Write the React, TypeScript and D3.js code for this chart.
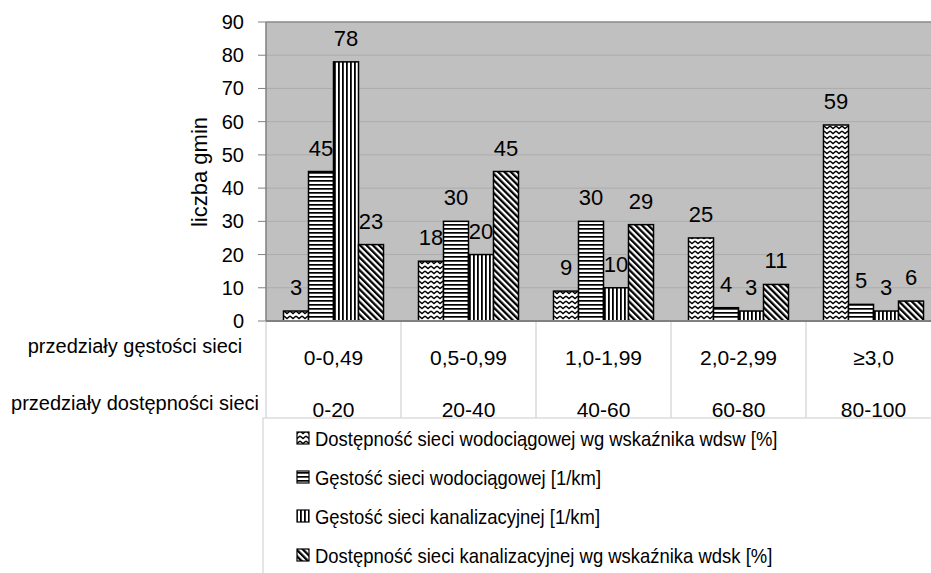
import * as d3 from 'd3';

const categories = ['0-0,49', '0,5-0,99', '1,0-1,99', '2,0-2,99', '≥3,0'];
const accessRanges = ['0-20', '20-40', '40-60', '60-80', '80-100'];

const wdswValues = [3, 18, 9, 25, 59];
const waterDensityValues = [45, 30, 30, 4, 5];
const sewerDensityValues = [78, 20, 10, 3, 3];
const wdskValues = [23, 45, 29, 11, 6];

const seriesNames = [
  'Dostępność sieci wodociągowej wg wskaźnika wdsw [%]',
  'Gęstość sieci wodociągowej [1/km]',
  'Gęstość sieci kanalizacyjnej [1/km]',
  'Dostępność sieci kanalizacyjnej wg wskaźnika wdsk [%]',
];
const seriesValues = [wdswValues, waterDensityValues, sewerDensityValues, wdskValues];
const patternIds = ['pat-zigzag', 'pat-horiz', 'pat-vert', 'pat-diag'];

const rowLabels = ['przedziały gęstości sieci', 'przedziały dostępności sieci'];
const yLabel = 'liczba gmin';

const FONT = "'Liberation Sans', Arial, sans-serif";

const App = () => {
  const width = 931;
  const height = 573;
  const left = 266;
  const right = 941;
  const top = 22;
  const bottom = 321;

  const x0 = d3.scaleBand<string>().domain(categories).range([left, right]);
  const x1 = d3
    .scaleBand<number>()
    .domain(d3.range(seriesValues.length))
    .range([0, x0.bandwidth()])
    .paddingOuter(0.7);
  const y = d3.scaleLinear().domain([0, 90]).range([bottom, top]);
  const yTicks = y.ticks(9);

  const tableBottom = 418;
  const legendX = 297;
  const legendBase = 446;
  const legendStep = 39;

  return (
    <svg
      width={width}
      height={height}
      style={{ position: 'absolute', left: 0, top: 0, background: '#fff' }}
      fontFamily={FONT}
    >
      <defs>
        <pattern id="pat-zigzag" width="6" height="5" patternUnits="userSpaceOnUse">
          <rect width="6" height="5" fill="#fff" />
          <path d="M0,1 L3,3.6 L6,1" fill="none" stroke="#000" strokeWidth="1.4" />
        </pattern>
        <pattern id="pat-horiz" width="4" height="4" patternUnits="userSpaceOnUse">
          <rect width="4" height="4" fill="#fff" />
          <rect width="4" height="1.7" fill="#000" />
        </pattern>
        <pattern id="pat-vert" width="4" height="4" patternUnits="userSpaceOnUse">
          <rect width="4" height="4" fill="#fff" />
          <rect width="1.8" height="4" fill="#000" />
        </pattern>
        <pattern
          id="pat-diag"
          width="4.5"
          height="4.5"
          patternUnits="userSpaceOnUse"
          patternTransform="rotate(-45)"
        >
          <rect width="4.5" height="4.5" fill="#fff" />
          <rect width="2.3" height="4.5" fill="#000" />
        </pattern>
      </defs>

      {/* plot area */}
      <rect x={left} y={top} width={right - left} height={bottom - top} fill="#c0c0c0" />
      {yTicks.slice(1).map((t) => (
        <line
          key={t}
          x1={left}
          x2={right}
          y1={y(t)}
          y2={y(t)}
          stroke={t === 90 ? '#8a8a8a' : '#acacac'}
          strokeWidth={t === 90 ? 1.5 : 1}
        />
      ))}
      <line x1={left} x2={left} y1={top} y2={bottom} stroke="#808080" strokeWidth={1.5} />

      {/* y axis */}
      {yTicks.map((t) => (
        <g key={t}>
          <line x1={left - 8} x2={left} y1={y(t)} y2={y(t)} stroke="#808080" />
          <text x={244} y={y(t) + 7} textAnchor="end" fontSize={20}>
            {t}
          </text>
        </g>
      ))}
      <text
        transform={`translate(207,172) rotate(-90)`}
        textAnchor="middle"
        fontSize={22}
      >
        {yLabel}
      </text>

      {/* bars */}
      {categories.map((c, ci) => (
        <g key={c} transform={`translate(${x0(c)},0)`}>
          {seriesValues.map((vals, si) => (
            <rect
              key={si}
              x={x1(si)}
              y={y(vals[ci])}
              width={x1.bandwidth()}
              height={y(0) - y(vals[ci])}
              fill={`url(#${patternIds[si]})`}
              stroke="#000"
              strokeWidth={1.5}
            />
          ))}
          {seriesValues.map((vals, si) => (
            <text
              key={`l${si}`}
              x={x1(si)! + x1.bandwidth() / 2}
              y={y(vals[ci]) - 16}
              textAnchor="middle"
              fontSize={22}
            >
              {vals[ci]}
            </text>
          ))}
        </g>
      ))}

      {/* x axis & table */}
      {categories.map((c) => (
        <line
          key={c}
          x1={x0(c)}
          x2={x0(c)}
          y1={bottom}
          y2={tableBottom}
          stroke="#d0d0d0"
          strokeWidth={1.2}
        />
      ))}
      <line x1={left} x2={right} y1={bottom} y2={bottom} stroke="#808080" strokeWidth={2} />
      {categories.map((c, i) => (
        <g key={`t${c}`}>
          <text x={x0(c)! + x0.bandwidth() / 2} y={365} textAnchor="middle" fontSize={21}>
            {c}
          </text>
          <text x={x0(c)! + x0.bandwidth() / 2} y={417} textAnchor="middle" fontSize={21}>
            {accessRanges[i]}
          </text>
        </g>
      ))}
      <text x={135} y={353} textAnchor="middle" fontSize={20}>
        {rowLabels[0]}
      </text>
      <text x={135} y={410} textAnchor="middle" fontSize={20}>
        {rowLabels[1]}
      </text>

      {/* legend */}
      <rect
        x={263}
        y={tableBottom}
        width={width}
        height={height}
        fill="#fff"
        stroke="#d4d4d4"
        strokeWidth={1.2}
      />
      {seriesNames.map((name, i) => (
        <g key={name}>
          <rect
            x={legendX}
            y={legendBase + i * legendStep - 14}
            width={12}
            height={12}
            fill={`url(#${patternIds[i]})`}
            stroke="#000"
            strokeWidth={1.2}
          />
          <text
            transform={`translate(${legendX + 18},${legendBase + i * legendStep}) scale(0.9,1)`}
            fontSize={20.5}
          >
            {name}
          </text>
        </g>
      ))}
    </svg>
  );
};

export default App;
